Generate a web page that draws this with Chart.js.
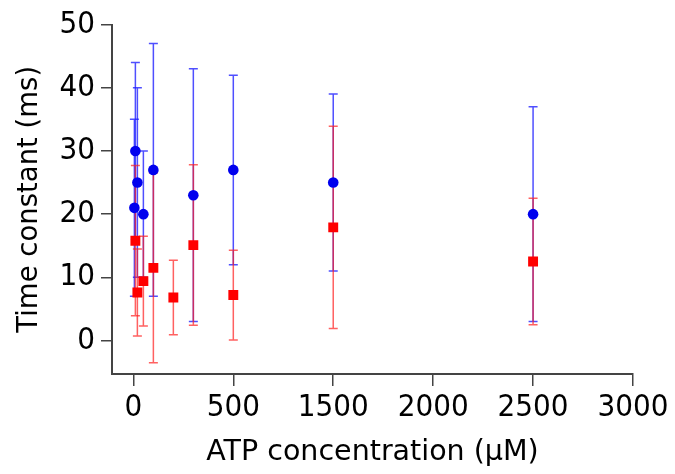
<!DOCTYPE html>
<html>
<head>
<meta charset="utf-8">
<script src="https://cdn.jsdelivr.net/npm/chart.js@4/dist/chart.umd.min.js"></script>
<style>
  html, body { margin: 0; padding: 0; background: #fff; }
  #wrap { width: 675px; height: 474px; }
</style>
</head>
<body>
<div id="wrap"><canvas id="atp-chart"></canvas></div>
<script>
// blue series (circles)
let blueConc = [5, 10, 20, 50, 100, 300, 500, 1500, 2500];
let blueTau  = [21, 30, 25, 20, 27, 23, 27, 25, 20];
let blueErr  = [14, 14, 15, 10, 20, 20, 15, 14, 17];

// red series (squares)
let redConc = [10, 20, 50, 100, 200, 300, 500, 1500, 2500];
let redTau  = [15.8, 7.6, 9.4, 11.5, 6.8, 15.1, 7.2, 17.9, 12.5];
let redErr  = [11.9, 6.9, 7.1, 15, 5.9, 12.7, 7.1, 16, 10];

let xTicks = [0, 500, 1500, 2000, 2500, 3000];
let yTicks = [0, 10, 20, 30, 40, 50];

const TICK_FONT = "'DejaVu Sans Condensed', 'DejaVu Sans', sans-serif";
const TITLE_FONT = "'DejaVu Sans', sans-serif";

// the x axis is squeezed between 500 and 1500 (as in the original figure)
function warp(v) {
    if (v <= 500) return v;
    if (v <= 1500) return 500 + (v - 500) / 2;
    return v - 500;
}
function unwarp(u) {
    if (u <= 500) return u;
    if (u <= 1000) return 500 + (u - 500) * 2;
    return u + 500;
}

class WarpScale extends Chart.LinearScale {
    getPixelForValue(value) {
        if (value === null || value === undefined) return NaN;
        let a = warp(this.min), b = warp(this.max);
        return this.getPixelForDecimal((warp(value) - a) / (b - a));
    }
    getValueForPixel(pixel) {
        let a = warp(this.min), b = warp(this.max);
        return unwarp(a + this.getDecimalForPixel(pixel) * (b - a));
    }
}
WarpScale.id = 'warp';
WarpScale.defaults = Chart.LinearScale.defaults;
Chart.register(WarpScale);

function toPoints(xs, ys) {
    return xs.map((x, i) => ({x: x, y: ys[i]}));
}

let errorSeries = [
    {x: blueConc, y: blueTau, e: blueErr, color: 'rgba(30, 30, 255, 0.78)'},
    {x: redConc, y: redTau, e: redErr, color: 'rgba(255, 30, 30, 0.7)'}
];

let errorBars = {
    id: 'errorBars',
    beforeDatasetsDraw: function (chart) {
        let ctx = chart.ctx, xs = chart.scales.x, ys = chart.scales.y;
        ctx.save();
        ctx.lineWidth = 1.5;
        errorSeries.forEach(function (s) {
            ctx.strokeStyle = s.color;
            s.x.forEach(function (xv, i) {
                let px = xs.getPixelForValue(xv);
                let top = ys.getPixelForValue(s.y[i] + s.e[i]);
                let bot = ys.getPixelForValue(s.y[i] - s.e[i]);
                ctx.beginPath();
                ctx.moveTo(px, top); ctx.lineTo(px, bot);
                ctx.moveTo(px - 4.5, top); ctx.lineTo(px + 4.5, top);
                ctx.moveTo(px - 4.5, bot); ctx.lineTo(px + 4.5, bot);
                ctx.stroke();
            });
        });
        ctx.restore();
    }
};

window.onload = function () {
    let ctx = document.getElementById('atp-chart').getContext('2d');
    new Chart(ctx, {
        type: 'scatter',
        data: {
            datasets: [{
                label: 'blue',
                data: toPoints(blueConc, blueTau),
                backgroundColor: '#0000ee',
                borderColor: '#0000ee',
                pointRadius: 5.3,
                pointBorderWidth: 0,
                pointStyle: 'circle'
            }, {
                label: 'red',
                data: toPoints(redConc, redTau),
                backgroundColor: '#ff0000',
                borderColor: '#ff0000',
                pointRadius: 7,
                pointBorderWidth: 0,
                pointStyle: 'rect'
            }]
        },
        options: {
            responsive: true,
            maintainAspectRatio: false,
            animation: false,
            layout: {padding: {top: 22, right: 42, left: 0, bottom: 0}},
            plugins: {legend: {display: false}, tooltip: {enabled: false}},
            scales: {
                x: {
                    type: 'warp',
                    min: -107,
                    max: 3000,
                    afterBuildTicks: function (s) { s.ticks = xTicks.map(v => ({value: v})); },
                    afterFit: function (s) { s.height = 100; },
                    border: {display: true, color: '#444', width: 2},
                    grid: {display: true, drawOnChartArea: false, drawTicks: true, tickLength: 12, color: '#444', lineWidth: 1.5},
                    ticks: {
                        color: '#000', padding: 3, maxRotation: 0, autoSkip: false,
                        font: {family: TICK_FONT, size: 31},
                        callback: v => String(v)
                    },
                    title: {
                        display: true, text: 'ATP concentration (µM)', color: '#000',
                        font: {family: TITLE_FONT, size: 28.5}, padding: {top: 4}
                    }
                },
                y: {
                    min: -5.3,
                    max: 50,
                    afterBuildTicks: function (s) { s.ticks = yTicks.map(v => ({value: v})); },
                    afterFit: function (s) { s.width = 112; },
                    border: {display: true, color: '#444', width: 2},
                    grid: {display: true, drawOnChartArea: false, drawTicks: true, tickLength: 11, color: '#444', lineWidth: 1.5},
                    ticks: {
                        color: '#000', padding: 6,
                        font: {family: TICK_FONT, size: 31},
                        callback: v => String(v)
                    },
                    title: {
                        display: true, text: 'Time constant (ms)', color: '#000',
                        font: {family: TITLE_FONT, size: 27.5}, padding: {top: 13, bottom: 0}
                    }
                }
            }
        },
        plugins: [errorBars]
    });
};
</script>
</body>
</html>
